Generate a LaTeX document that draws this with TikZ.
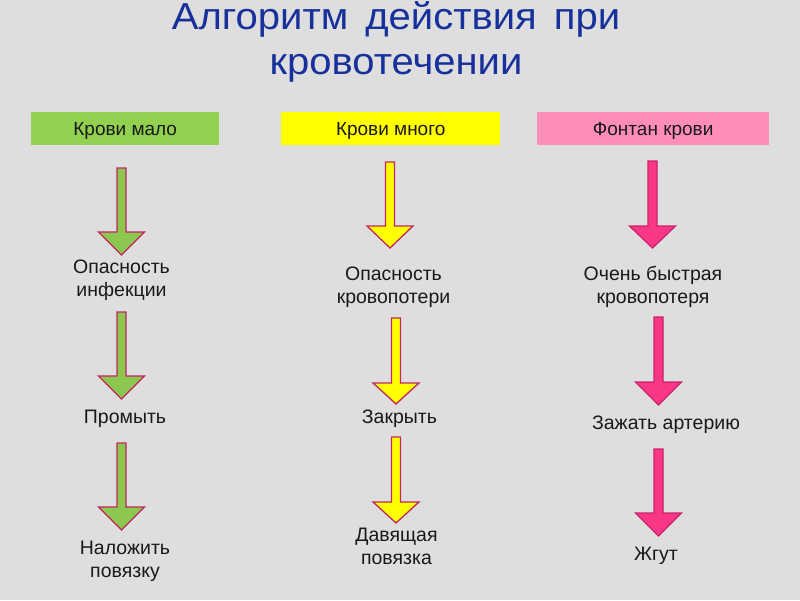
\documentclass[tikz,border=0pt]{standalone}
\usepackage{fontspec}
\setmainfont{Liberation Sans}
\definecolor{bgc}{RGB}{222,222,222}
\definecolor{titlec}{RGB}{24,48,156}
\definecolor{txtc}{RGB}{25,25,25}
\definecolor{greenbox}{RGB}{146,208,80}
\definecolor{yellowbox}{RGB}{255,255,0}
\definecolor{pinkbox}{RGB}{255,140,185}
\definecolor{greenarr}{RGB}{140,200,80}
\definecolor{yellowarr}{RGB}{255,255,0}
\definecolor{pinkarr}{RGB}{250,55,135}
\definecolor{arrline}{RGB}{190,40,95}
\definecolor{pinkline}{RGB}{205,35,105}
\newcommand\mlines[1]{\begin{tabular}[t]{@{}c@{}}#1\end{tabular}}
\newcommand\tlines[2]{\vtop{\halign{\hfil##\hfil\cr #1\cr #2\cr}}}
\newcommand\barrow[6]{% line colour, fill, cx, top, head base, tip
  \draw[line width=1.3pt, line join=miter, draw=#1, fill=#2]
    (#3-4.5,#4) -- (#3+4.5,#4) -- (#3+4.5,#5) -- (#3+23,#5) -- (#3,#6)
    -- (#3-23,#5) -- (#3-4.5,#5) -- cycle;}
\tikzset{
  titletext/.style={anchor=base, inner sep=0pt, text=titlec,
    font=\fontsize{40}{48}\selectfont},
  headbox/.style={inner sep=0pt, minimum height=33pt, text=txtc,
    font=\fontsize{19}{22}\selectfont, text height=13.5pt, text depth=0pt},
  lbl/.style={anchor=base, inner sep=0pt, text=txtc,
    font=\fontsize{19.5}{23.5}\selectfont},
}
\begin{document}
\begin{tikzpicture}[x=1pt,y=-1pt]
\useasboundingbox[fill=bgc] (0,0) rectangle (800,600);

\node[titletext] (title) at (396,29)
  {\scalebox{1}[0.94]{\tlines{Алгоритм\hspace{17pt}действия\hspace{17pt}при}{кровотечении}}};

% header boxes
\node[headbox, fill=greenbox, minimum width=188pt, anchor=north west] (hg) at (31,112) {Крови мало};
\node[headbox, fill=yellowbox, minimum width=219pt, anchor=north west] (hy) at (281,112) {Крови много};
\node[headbox, fill=pinkbox, minimum width=232pt, anchor=north west] (hp) at (537,112) {Фонтан крови};

% labels
\node[lbl] (g1) at (121.5,273) {\mlines{Опасность\\инфекции}};
\node[lbl] (g2) at (125,423) {Промыть};
\node[lbl] (g3) at (125,554) {\mlines{Наложить\\повязку}};
\node[lbl] (y1) at (393.5,280) {\mlines{Опасность\\кровопотери}};
\node[lbl] (y2) at (399.5,423) {Закрыть};
\node[lbl] (y3) at (396.5,541) {\mlines{Давящая\\повязка}};
\node[lbl] (p1) at (653,280) {\mlines{Очень быстрая\\кровопотеря}};
\node[lbl] (p2) at (666,429) {Зажать артерию};
\node[lbl] (p3) at (656,560) {Жгут};

% block arrows
\barrow{arrline}{greenarr}{121.5}{168}{232}{255}
\barrow{arrline}{greenarr}{121.5}{312}{376}{399}
\barrow{arrline}{greenarr}{121.5}{443}{507}{530}
\barrow{arrline}{yellowarr}{390}{162}{226}{248}
\barrow{arrline}{yellowarr}{396}{318}{383}{404}
\barrow{arrline}{yellowarr}{396}{437}{502}{523}
\barrow{pinkline}{pinkarr}{652.5}{161}{226}{248}
\barrow{pinkline}{pinkarr}{658.5}{317}{382}{405}
\barrow{pinkline}{pinkarr}{658.5}{449}{513}{536}
\end{tikzpicture}
\end{document}
